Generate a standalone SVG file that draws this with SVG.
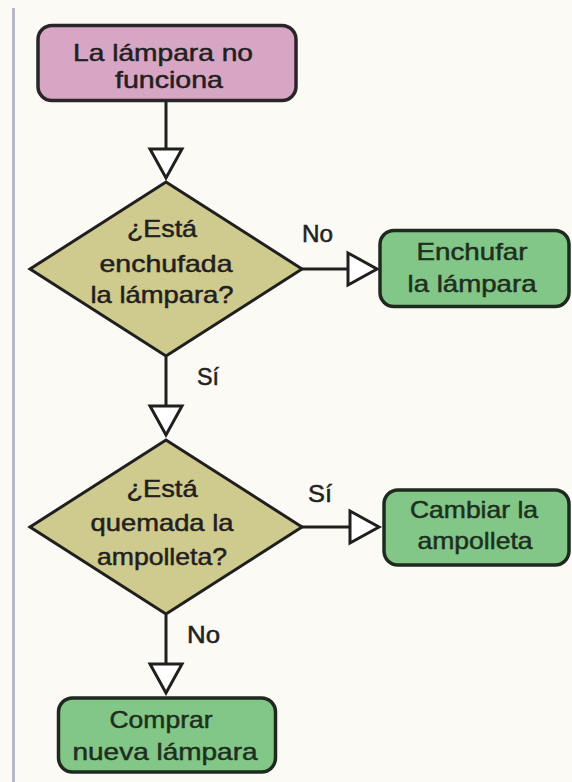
<svg xmlns="http://www.w3.org/2000/svg" width="572" height="782" viewBox="0 0 572 782">
  <style>
    .t { font-family: "Liberation Sans", Arial, sans-serif; font-size: 24px; text-anchor: middle; stroke-width: 0.5px; }
    .dark { fill: #231f1f; stroke: #231f1f; }
    .grn { fill: #1f2f1f; stroke: #1f2f1f; }
    .lbl { font-family: "Liberation Sans", Arial, sans-serif; font-size: 23px; fill: #222; stroke: #222; stroke-width: 0.5px; }
    .start { fill: #d7a6c5; stroke: #2a2526; stroke-width: 3.5; }
    .dec { fill: #cfca8d; stroke: #1f1f1f; stroke-width: 3; stroke-linejoin: miter; }
    .act { fill: #82c787; stroke: #1f2a1f; stroke-width: 3.5; }
    .conn { stroke: #1f1f1f; stroke-width: 3; fill: none; }
  </style>
  <defs>
    <marker id="arr" markerUnits="userSpaceOnUse" markerWidth="36" markerHeight="38" viewBox="0 0 36 38" refX="32" refY="19" orient="auto">
      <path d="M3,3 L32,19 L3,35 Z" fill="#ffffff" stroke="#1f1f1f" stroke-width="3" stroke-linejoin="miter"/>
    </marker>
  </defs>
  <rect x="0" y="0" width="572" height="782" fill="#fcfaf5"/>
  <line x1="13.5" y1="8" x2="13.5" y2="782" stroke="#b5b9c7" stroke-width="3"/>

  <g id="connectors">
    <line class="conn" x1="166" y1="101" x2="166" y2="178" marker-end="url(#arr)"/>
    <line class="conn" x1="302" y1="269" x2="377" y2="269" marker-end="url(#arr)"/>
    <line class="conn" x1="166" y1="357" x2="166" y2="435" marker-end="url(#arr)"/>
    <line class="conn" x1="302" y1="527" x2="379" y2="527" marker-end="url(#arr)"/>
    <line class="conn" x1="166" y1="615" x2="166" y2="693" marker-end="url(#arr)"/>
    <text class="lbl" x="302" y="242" textLength="31" lengthAdjust="spacingAndGlyphs">No</text>
    <text class="lbl" x="197" y="385" textLength="22" lengthAdjust="spacingAndGlyphs">Sí</text>
    <text class="lbl" x="308" y="502" textLength="24" lengthAdjust="spacingAndGlyphs">Sí</text>
    <text class="lbl" x="187" y="643" textLength="33" lengthAdjust="spacingAndGlyphs">No</text>
  </g>

  <g id="start">
    <rect class="start" x="38" y="25.5" width="258" height="75" rx="14"/>
    <text class="t dark" x="163" y="61" font-size="26" textLength="180" lengthAdjust="spacingAndGlyphs">La lámpara no</text>
    <text class="t dark" x="169" y="88" font-size="26" textLength="108" lengthAdjust="spacingAndGlyphs">funciona</text>
  </g>

  <g id="dec1">
    <polygon class="dec" points="166,182 302,269 166,356 30,269"/>
    <text class="t dark" x="162" y="237" textLength="70" lengthAdjust="spacingAndGlyphs">¿Está</text>
    <text class="t dark" x="166" y="272" textLength="133" lengthAdjust="spacingAndGlyphs">enchufada</text>
    <text class="t dark" x="162" y="303" textLength="143" lengthAdjust="spacingAndGlyphs">la lámpara?</text>
  </g>

  <g id="plug">
    <rect class="act" x="380" y="230.5" width="189" height="76" rx="14"/>
    <text class="t grn" x="472" y="260" textLength="111" lengthAdjust="spacingAndGlyphs">Enchufar</text>
    <text class="t grn" x="472" y="292" textLength="129" lengthAdjust="spacingAndGlyphs">la lámpara</text>
  </g>

  <g id="dec2">
    <polygon class="dec" points="166,440 302,527 166,614 30,527"/>
    <text class="t dark" x="162" y="497" textLength="71" lengthAdjust="spacingAndGlyphs">¿Está</text>
    <text class="t dark" x="162" y="531" textLength="143" lengthAdjust="spacingAndGlyphs">quemada la</text>
    <text class="t dark" x="162" y="565" textLength="130" lengthAdjust="spacingAndGlyphs">ampolleta?</text>
  </g>

  <g id="bulb">
    <rect class="act" x="384" y="490" width="185" height="75" rx="14"/>
    <text class="t grn" x="474" y="518" textLength="128" lengthAdjust="spacingAndGlyphs">Cambiar la</text>
    <text class="t grn" x="475" y="549" textLength="115" lengthAdjust="spacingAndGlyphs">ampolleta</text>
  </g>

  <g id="buy">
    <rect class="act" x="58.5" y="698" width="217" height="74" rx="14"/>
    <text class="t grn" x="161" y="728" textLength="103" lengthAdjust="spacingAndGlyphs">Comprar</text>
    <text class="t grn" x="165" y="760" textLength="185" lengthAdjust="spacingAndGlyphs">nueva lámpara</text>
  </g>
</svg>
